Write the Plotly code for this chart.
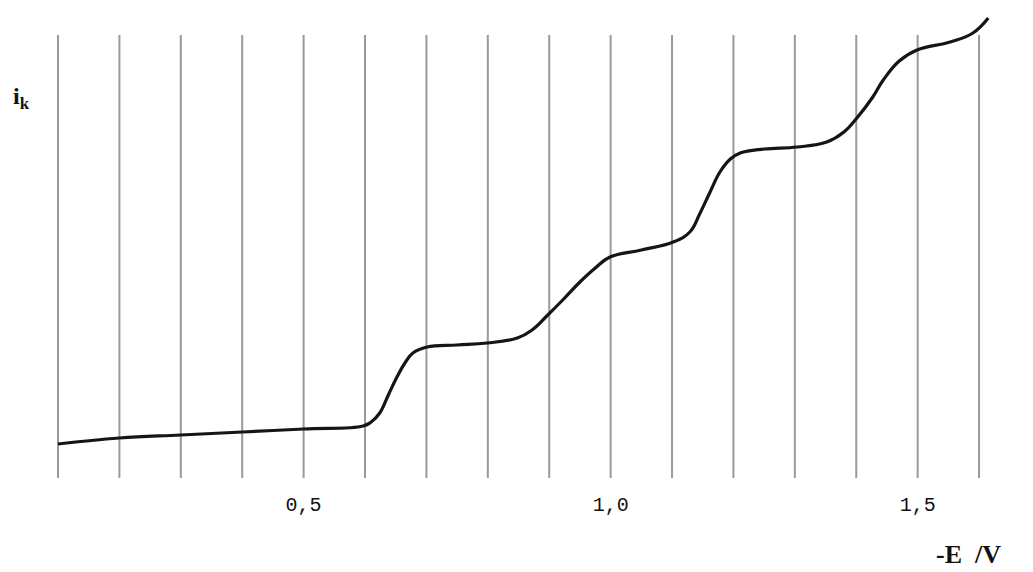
import plotly.graph_objects as go

# Polarogram: potential (-E / V) vs cathodic current (arbitrary units)
E = [0.100, 0.200, 0.300, 0.400, 0.500, 0.597, 0.610, 0.624, 0.638, 0.652, 0.665,
     0.678, 0.701, 0.750, 0.799, 0.848, 0.872, 0.896, 0.922, 0.950, 0.975, 0.999,
     1.050, 1.102, 1.129, 1.145, 1.162, 1.178, 1.195, 1.211, 1.250, 1.304, 1.352,
     1.380, 1.401, 1.427, 1.444, 1.470, 1.499, 1.553, 1.590, 1.615]
i_k = [3.6, 4.2, 4.5, 4.8, 5.1, 5.4, 5.8, 6.7, 8.5, 10.3, 11.7,
       12.7, 13.3, 13.5, 13.7, 14.2, 15.0, 16.4, 18.0, 19.8, 21.2, 22.3,
       23.0, 23.8, 24.8, 26.6, 28.8, 30.8, 32.1, 32.7, 33.1, 33.3, 33.8,
       34.8, 36.2, 38.3, 40.0, 41.9, 43.0, 43.8, 44.7, 46.2]

grid_E = [0.1, 0.2, 0.3, 0.4, 0.5, 0.6, 0.7, 0.8, 0.9, 1.0, 1.1, 1.2, 1.3, 1.4, 1.5, 1.6]
tick_vals = [0.5, 1.0, 1.5]
tick_text = ["0,5", "1,0", "1,5"]
grid_bottom = 0.2
grid_top = 44.5

fig = go.Figure()

for g in grid_E:
    fig.add_shape(type="line", xref="x", yref="y", x0=g, x1=g, y0=grid_bottom, y1=grid_top,
                  line=dict(color="#9a9a96", width=2), layer="below")

fig.add_trace(go.Scatter(x=E, y=i_k, mode="lines",
                         line=dict(color="#151515", width=3.2, shape="spline", smoothing=1.2),
                         showlegend=False, hoverinfo="skip"))

fig.update_xaxes(range=[0.0707, 1.6390], tickvals=tick_vals, ticktext=tick_text,
                 showgrid=False, zeroline=False, showline=False, ticks="",
                 tickfont=dict(family="Liberation Mono", size=20, color="#111"), ticklabelstandoff=0)
fig.update_yaxes(range=[-1, 47], showgrid=False, zeroline=False, showline=False,
                 showticklabels=False, ticks="")

fig.add_annotation(text="<b>i</b><sub><b>k</b></sub>", xref="paper", yref="paper", x=-0.030, y=0.8175,
                   xanchor="left", yanchor="middle", showarrow=False,
                   font=dict(family="Liberation Serif", size=24, color="#111"))
fig.add_annotation(text="<b>-E&nbsp;&nbsp;/V</b>", xref="paper", yref="paper", x=1.0, y=-0.135,
                   xanchor="right", yanchor="middle", showarrow=False,
                   font=dict(family="Liberation Serif", size=26, color="#111"))

fig.update_layout(width=1033, height=572, margin=dict(l=32, r=38, t=2, b=90),
                  paper_bgcolor="white", plot_bgcolor="white")

fig.write_html("out.html")
